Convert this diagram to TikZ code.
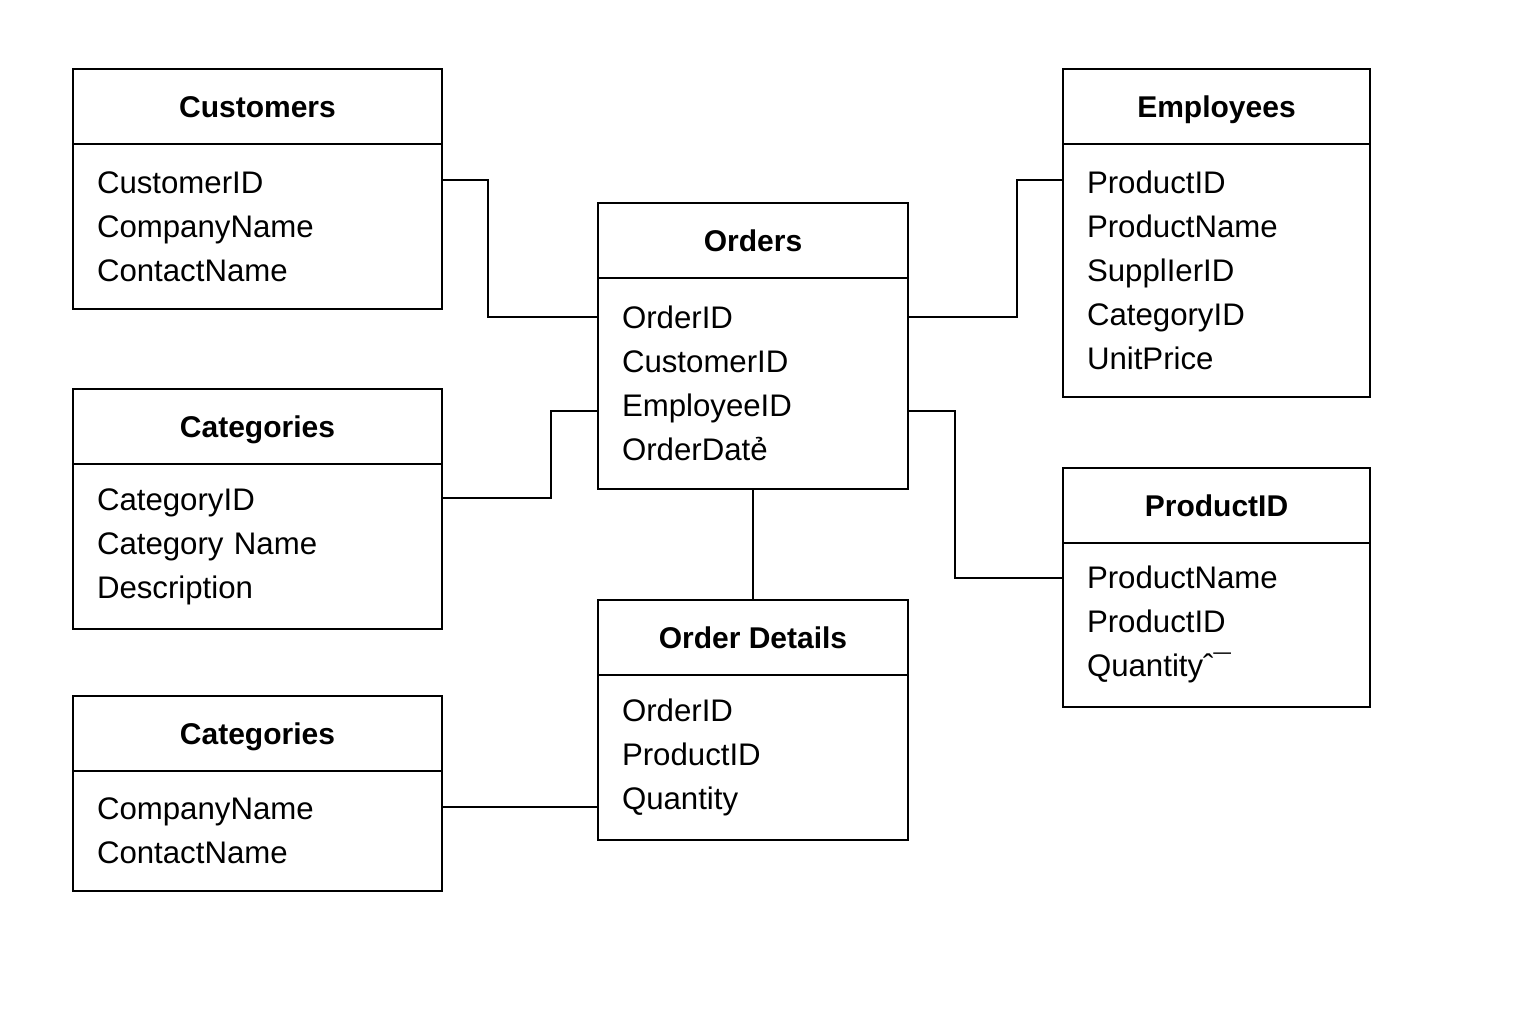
\documentclass[tikz,border=0pt]{standalone}
\usepackage{fontspec}
\setmainfont{Liberation Sans}
\usetikzlibrary{positioning}

\begin{document}
\begin{tikzpicture}[
  x=1pt,y=-1pt,
  head/.style={draw, line width=2pt, outer sep=0pt, inner sep=0pt, minimum height=75pt, text height=22pt, text depth=0pt, font=\fontsize{30}{36}\selectfont\bfseries},
  body/.style={draw, line width=2pt, outer sep=0pt, inner xsep=24pt, inner ysep=0pt, align=left, font=\fontsize{31.2}{44}\selectfont},
  link/.style={line width=2pt}
]
\useasboundingbox (0,0) rectangle (1536,1024);

\node[head, minimum width=369pt] (cust) at (257.5,107) {Customers};
\node[body, below=0pt of cust, text width=321pt, minimum height=164pt] (custbody) {CustomerID\\CompanyName\\ContactName};

\node[head, minimum width=369pt] (cat) at (257.5,426.5) {Categories};
\node[body, below=0pt of cat, text width=321pt, minimum height=165pt] (catbody) {CategoryID\\Category Name\\Description};

\node[head, minimum width=369pt] (comp) at (257.5,733.5) {Categories};
\node[body, below=0pt of comp, text width=321pt, minimum height=120pt] (compbody) {CompanyName\\ContactName};

\node[head, minimum width=310pt] (ord) at (753,241) {Orders};
\node[body, below=0pt of ord, text width=262pt, minimum height=210pt] (ordbody) {OrderID\\CustomerID\\EmployeeID\\OrderDatẻ};

\node[head, minimum width=310pt] (det) at (753,637.5) {Order Details};
\node[body, below=0pt of det, text width=262pt, minimum height=165pt] (detbody) {OrderID\\ProductID\\Quantity};

\node[head, minimum width=307pt] (emp) at (1216.5,107) {Employees};
\node[body, below=0pt of emp, text width=259pt, minimum height=252pt] (empbody) {ProductID\\ProductName\\SupplIerID\\CategoryID\\UnitPrice};

\node[head, minimum width=307pt] (prod) at (1216.5,505) {ProductID};
\node[body, below=0pt of prod, text width=259pt, minimum height=164pt] (prodbody) {ProductName\\ProductID\\Quantityˆ¯};

\draw[link] ([yshift=46pt]custbody.east) -- ++(46,0) |- ([yshift=67pt]ordbody.west);
\draw[link] ([yshift=48.5pt]catbody.east) -- ++(109,0) |- ([yshift=-27pt]ordbody.west);
\draw[link] ([yshift=24pt]compbody.east) -- ([yshift=24pt]compbody.east -| detbody.west);
\draw[link] (ordbody.south) -- (det.north);
\draw[link] ([yshift=67pt]ordbody.east) -- ++(109,0) |- ([yshift=90pt]empbody.west);
\draw[link] ([yshift=-27pt]ordbody.east) -- ++(47,0) |- ([yshift=47pt]prodbody.west);
\end{tikzpicture}
\end{document}
